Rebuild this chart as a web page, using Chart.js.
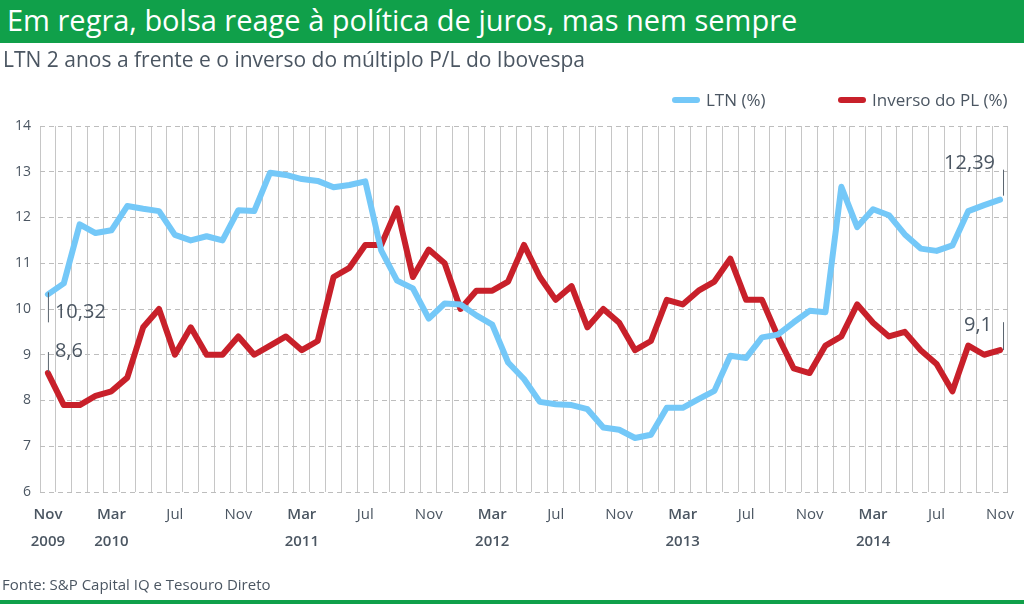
<!DOCTYPE html>
<html>
<head>
<meta charset="utf-8">
<script src="https://cdn.jsdelivr.net/npm/chart.js@4/dist/chart.umd.min.js"></script>
<style>
  body { margin: 0; background: #fff; font-family: "Open Sans", sans-serif; }
  .wrap { position: relative; width: 1024px; height: 604px; overflow: hidden; }
  .head { position: absolute; left: 0; top: 0; width: 1024px; height: 43px; background: #10a04a; }
  .head h1 { margin: 0; position: absolute; left: 7px; top: 0px; color: #fff; font-weight: 400; font-size: 29px; white-space: nowrap; }
  .sub { position: absolute; left: 3px; top: 45px; color: #4b5662; font-size: 21px; white-space: nowrap; }
  .foot { position: absolute; left: 2px; top: 574px; color: #4b5662; font-size: 15px; white-space: nowrap; }
  .bar { position: absolute; left: 0; top: 600px; width: 1024px; height: 4px; background: #10a04a; }
  .legend { position: absolute; top: 88px; font-size: 17px; color: #4b5662; white-space: nowrap; }
  .legend span.mk { display: inline-block; width: 28px; height: 6px; border-radius: 3px; vertical-align: middle; margin-right: 6px; position: relative; top: -1px; }
  canvas { position: absolute; left: 0; top: 0; }
</style>
</head>
<body>
<div class="wrap">
  <canvas id="lineChart" width="1024" height="604"></canvas>
  <div class="head"><h1>Em regra, bolsa reage à política de juros, mas nem sempre</h1></div>
  <div class="sub">LTN 2 anos a frente e o inverso do múltiplo P/L do Ibovespa</div>
  <div class="legend" id="leg1" style="left:672px"></div>
  <div class="legend" id="leg2" style="left:838px"></div>
  <div class="foot">Fonte: S&amp;P Capital IQ e Tesouro Direto</div>
  <div class="bar"></div>
</div>
<script>
// monthly, Nov 2009 .. Nov 2014
var months = [
  'nov/09', 'dez/09',
  'jan/10', 'fev/10', 'mar/10', 'abr/10', 'mai/10', 'jun/10', 'jul/10', 'ago/10', 'set/10', 'out/10', 'nov/10', 'dez/10',
  'jan/11', 'fev/11', 'mar/11', 'abr/11', 'mai/11', 'jun/11', 'jul/11', 'ago/11', 'set/11', 'out/11', 'nov/11', 'dez/11',
  'jan/12', 'fev/12', 'mar/12', 'abr/12', 'mai/12', 'jun/12', 'jul/12', 'ago/12', 'set/12', 'out/12', 'nov/12', 'dez/12',
  'jan/13', 'fev/13', 'mar/13', 'abr/13', 'mai/13', 'jun/13', 'jul/13', 'ago/13', 'set/13', 'out/13', 'nov/13', 'dez/13',
  'jan/14', 'fev/14', 'mar/14', 'abr/14', 'mai/14', 'jun/14', 'jul/14', 'ago/14', 'set/14', 'out/14', 'nov/14'
];

// axis labels shown every 4 months
var tickLabels = {
  'nov/09': ['Nov', '2009'], 'mar/10': ['Mar', '2010'], 'jul/10': 'Jul', 'nov/10': 'Nov',
  'mar/11': ['Mar', '2011'], 'jul/11': 'Jul', 'nov/11': 'Nov',
  'mar/12': ['Mar', '2012'], 'jul/12': 'Jul', 'nov/12': 'Nov',
  'mar/13': ['Mar', '2013'], 'jul/13': 'Jul', 'nov/13': 'Nov',
  'mar/14': ['Mar', '2014'], 'jul/14': 'Jul', 'nov/14': 'Nov'
};

var ltn = [
  10.32, 10.56, 11.85, 11.66, 11.72, 12.25, 12.19, 12.14, 11.62, 11.50, 11.59, 11.50, 12.16, 12.14,
  12.98, 12.93, 12.84, 12.80, 12.66, 12.71, 12.79, 11.28, 10.62, 10.45, 9.79, 10.12, 10.10, 9.86,
  9.66, 8.83, 8.47, 7.97, 7.92, 7.90, 7.81, 7.41, 7.36, 7.18, 7.25, 7.84, 7.84, 8.03, 8.21, 8.98,
  8.93, 9.38, 9.44, 9.71, 9.96, 9.93, 12.67, 11.79, 12.18, 12.05, 11.63, 11.32, 11.27, 11.39,
  12.14, 12.27, 12.39
];

var inversoPL = [
  8.6, 7.9, 7.9, 8.1, 8.2, 8.5, 9.6, 10.0, 9.0, 9.6, 9.0, 9.0, 9.4, 9.0,
  9.2, 9.4, 9.1, 9.3, 10.7, 10.9, 11.4, 11.4, 12.2, 10.7, 11.3, 11.0, 10.0, 10.4,
  10.4, 10.6, 11.4, 10.7, 10.2, 10.5, 9.6, 10.0, 9.7, 9.1, 9.3, 10.2, 10.1, 10.4, 10.6, 11.1,
  10.2, 10.2, 9.4, 8.7, 8.6, 9.2, 9.4, 10.1, 9.7, 9.4, 9.5, 9.1, 8.8, 8.2,
  9.2, 9.0, 9.1
];

var blue = '#74c8f8';
var red = '#c8202a';
var textGrey = '#4b5662';

// value callouts: dataset, point index, text
var callouts = [
  { ds: 0, i: 0, text: '10,32', dx: 7, lineTop: -2, lineBottom: 28, ty: 18, align: 'left' },
  { ds: 1, i: 0, text: '8,6', dx: 7, lineTop: -21, lineBottom: -1, ty: -22, align: 'left' },
  { ds: 0, i: 60, text: '12,39', dx: -5, lineTop: -30, lineBottom: -4, ty: -36, align: 'right', lx: 3 },
  { ds: 1, i: 60, text: '9,1', dx: -8, lineTop: -28, lineBottom: 0, ty: -25, align: 'right', lx: 3 }
];

var calloutPlugin = {
  id: 'callouts',
  afterDatasetsDraw: function (chart) {
    var ctx = chart.ctx;
    ctx.save();
    callouts.forEach(function (c) {
      var pt = chart.getDatasetMeta(c.ds).data[c.i];
      var lx = pt.x + (c.lx || 0);
      ctx.strokeStyle = '#5a646e';
      ctx.lineWidth = 1;
      ctx.beginPath();
      ctx.moveTo(lx + 0.5, pt.y + c.lineTop);
      ctx.lineTo(lx + 0.5, pt.y + c.lineBottom);
      ctx.stroke();
      ctx.fillStyle = textGrey;
      ctx.font = '20px "Open Sans"';
      ctx.textAlign = c.align;
      ctx.textBaseline = 'middle';
      ctx.fillText(c.text, pt.x + c.dx, pt.y + c.ty);
    });
    ctx.restore();
  }
};

var lineCtx = document.getElementById('lineChart').getContext('2d');
var lineChart = new Chart(lineCtx, {
  type: 'line',
  data: {
    labels: months,
    datasets: [{
      label: 'LTN (%)',
      data: ltn,
      borderColor: blue,
      backgroundColor: blue,
      borderWidth: 6,
      pointRadius: 0,
      tension: 0,
      borderJoinStyle: 'round',
      borderCapStyle: 'round',
      fill: false
    }, {
      label: 'Inverso do PL (%)',
      data: inversoPL,
      borderColor: red,
      backgroundColor: red,
      borderWidth: 6,
      pointRadius: 0,
      tension: 0,
      borderJoinStyle: 'round',
      borderCapStyle: 'round',
      fill: false
    }]
  },
  options: {
    responsive: false,
    animation: false,
    layout: { padding: { top: 126, right: 8, left: 0, bottom: 0 } },
    plugins: {
      legend: { display: false },
      tooltip: { enabled: false }
    },
    scales: {
      x: {
        offset: true,
        afterFit: function (scale) { scale.height = 112; },
        grid: { offset: true, color: '#c6c6c6', lineWidth: 1, drawTicks: false },
        border: { display: false },
        ticks: {
          autoSkip: false,
          maxRotation: 0,
          padding: 10,
          color: textGrey,
          font: function (c) {
            var lab = tickLabels[months[c.index]];
            return { family: 'Open Sans', size: 15, weight: Array.isArray(lab) ? '600' : '400', lineHeight: 1.75 };
          },
          callback: function (val, idx) {
            return tickLabels[months[idx]] || '';
          }
        }
      },
      y: {
        min: 6,
        max: 14,
        afterFit: function (scale) { scale.width = 40; },
        grid: { color: '#bdbdbd', lineWidth: 1, drawTicks: false },
        border: { display: false, dash: [5, 4] },
        ticks: {
          stepSize: 1,
          padding: 9,
          color: textGrey,
          font: { family: 'Open Sans', size: 14 }
        }
      }
    }
  },
  plugins: [calloutPlugin]
});

// legend built from the datasets
lineChart.data.datasets.forEach(function (ds, k) {
  var el = document.getElementById('leg' + (k + 1));
  el.innerHTML = '<span class="mk" style="background:' + ds.borderColor + '"></span>' + ds.label;
});
</script>
</body>
</html>
